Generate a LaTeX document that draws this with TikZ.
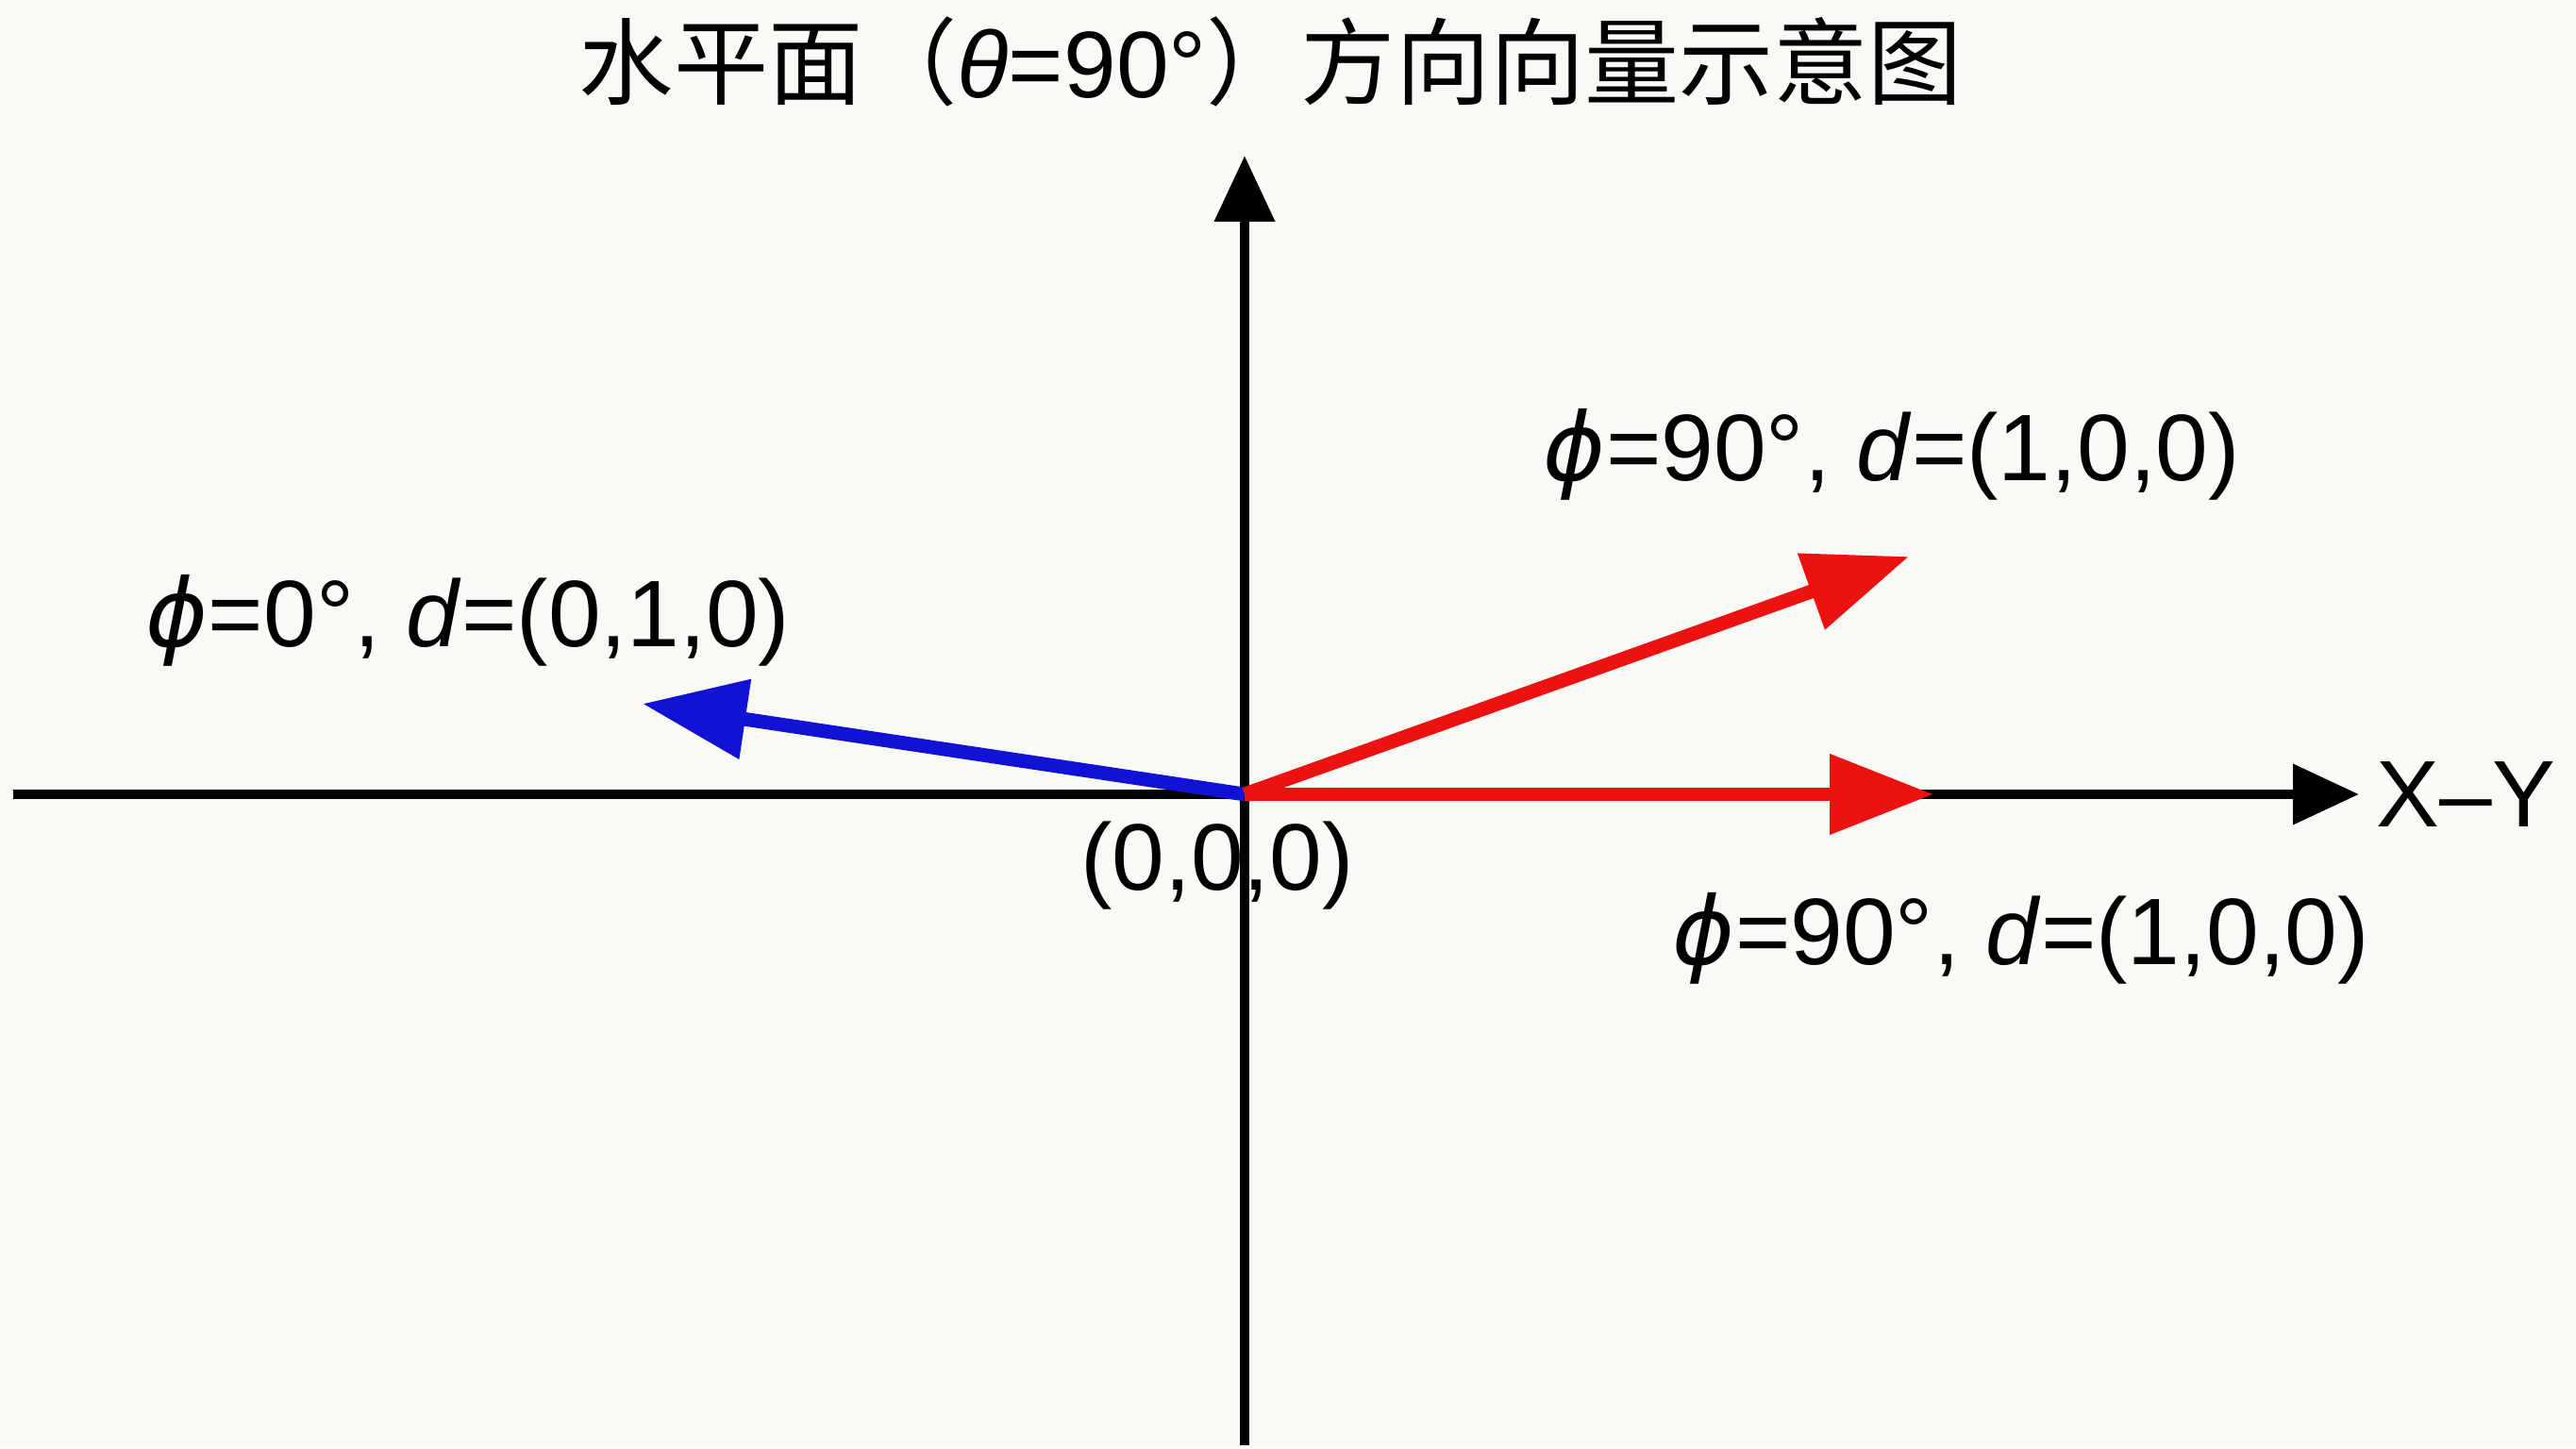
\documentclass[tikz,border=0pt]{standalone}
\usepackage{fontspec}
\usepackage{tikz}
\usetikzlibrary{arrows.meta}
\setmainfont{Liberation Sans}
\newfontfamily\cjk{Noto Sans CJK SC}
\newfontfamily\grk{DejaVu Sans}
\newcommand{\phisym}{{\grk\itshape ϕ}}
\definecolor{paper}{RGB}{249,249,246}
\definecolor{vecred}{RGB}{236,18,18}
\definecolor{vecblue}{RGB}{18,18,212}

\begin{document}
\begin{tikzpicture}
	\tikzstyle{axis}=[line width=3pt,-{Triangle[length=0.7cm,width=0.62cm]}]
	\tikzstyle{vec}=[line width=4.2pt,-{Triangle[length=1.1cm,width=0.82cm]}]
	\tikzstyle{lbl}=[font=\fontsize{28.5}{34}\selectfont,inner sep=0pt]
	
	\fill[paper] (0,0) rectangle (27.3,15.35);
	\useasboundingbox (0,0) rectangle (27.3,15.35);
	
	\node[lbl,font=\cjk\fontsize{28.5}{34}\selectfont](title) at (13.47,14.70){水平面（{\rmfamily\itshape θ\upshape=90°}）方向向量示意图};
	
	\coordinate (o) at (13.19,6.93);
	\coordinate (xl) at (0.14,6.93);
	\coordinate (xr) at (25.0,6.93);
	\coordinate (yb) at (13.19,0.03);
	\coordinate (yt) at (13.19,13.70);
	
	\coordinate (vb) at (6.81,7.89);
	\coordinate (vu) at (20.23,9.45);
	\coordinate (vh) at (20.49,6.93);
	
	\node[lbl](orig) at (12.90,6.17){(0,0,0)};
	\node[lbl,anchor=west](xy) at (25.18,6.93){X--Y};
	
	\node[lbl](lb) at (4.96,8.77){\phisym=0°, \textit{d}=(0,1,0)};
	\node[lbl](lu) at (20.05,10.53){\phisym=90°, \textit{d}=(1,0,0)};
	\node[lbl](lh) at (21.42,5.40){\phisym=90°, \textit{d}=(1,0,0)};
	
	\draw[axis] (xl) -- (xr);
	\draw[axis] (yb) -- (yt);
	
	\draw[vec,vecblue] (o) -- (vb);
	\draw[vec,vecred] (o) -- (vu);
	\draw[vec,vecred] (o) -- (vh);
	
\end{tikzpicture}
\end{document}
